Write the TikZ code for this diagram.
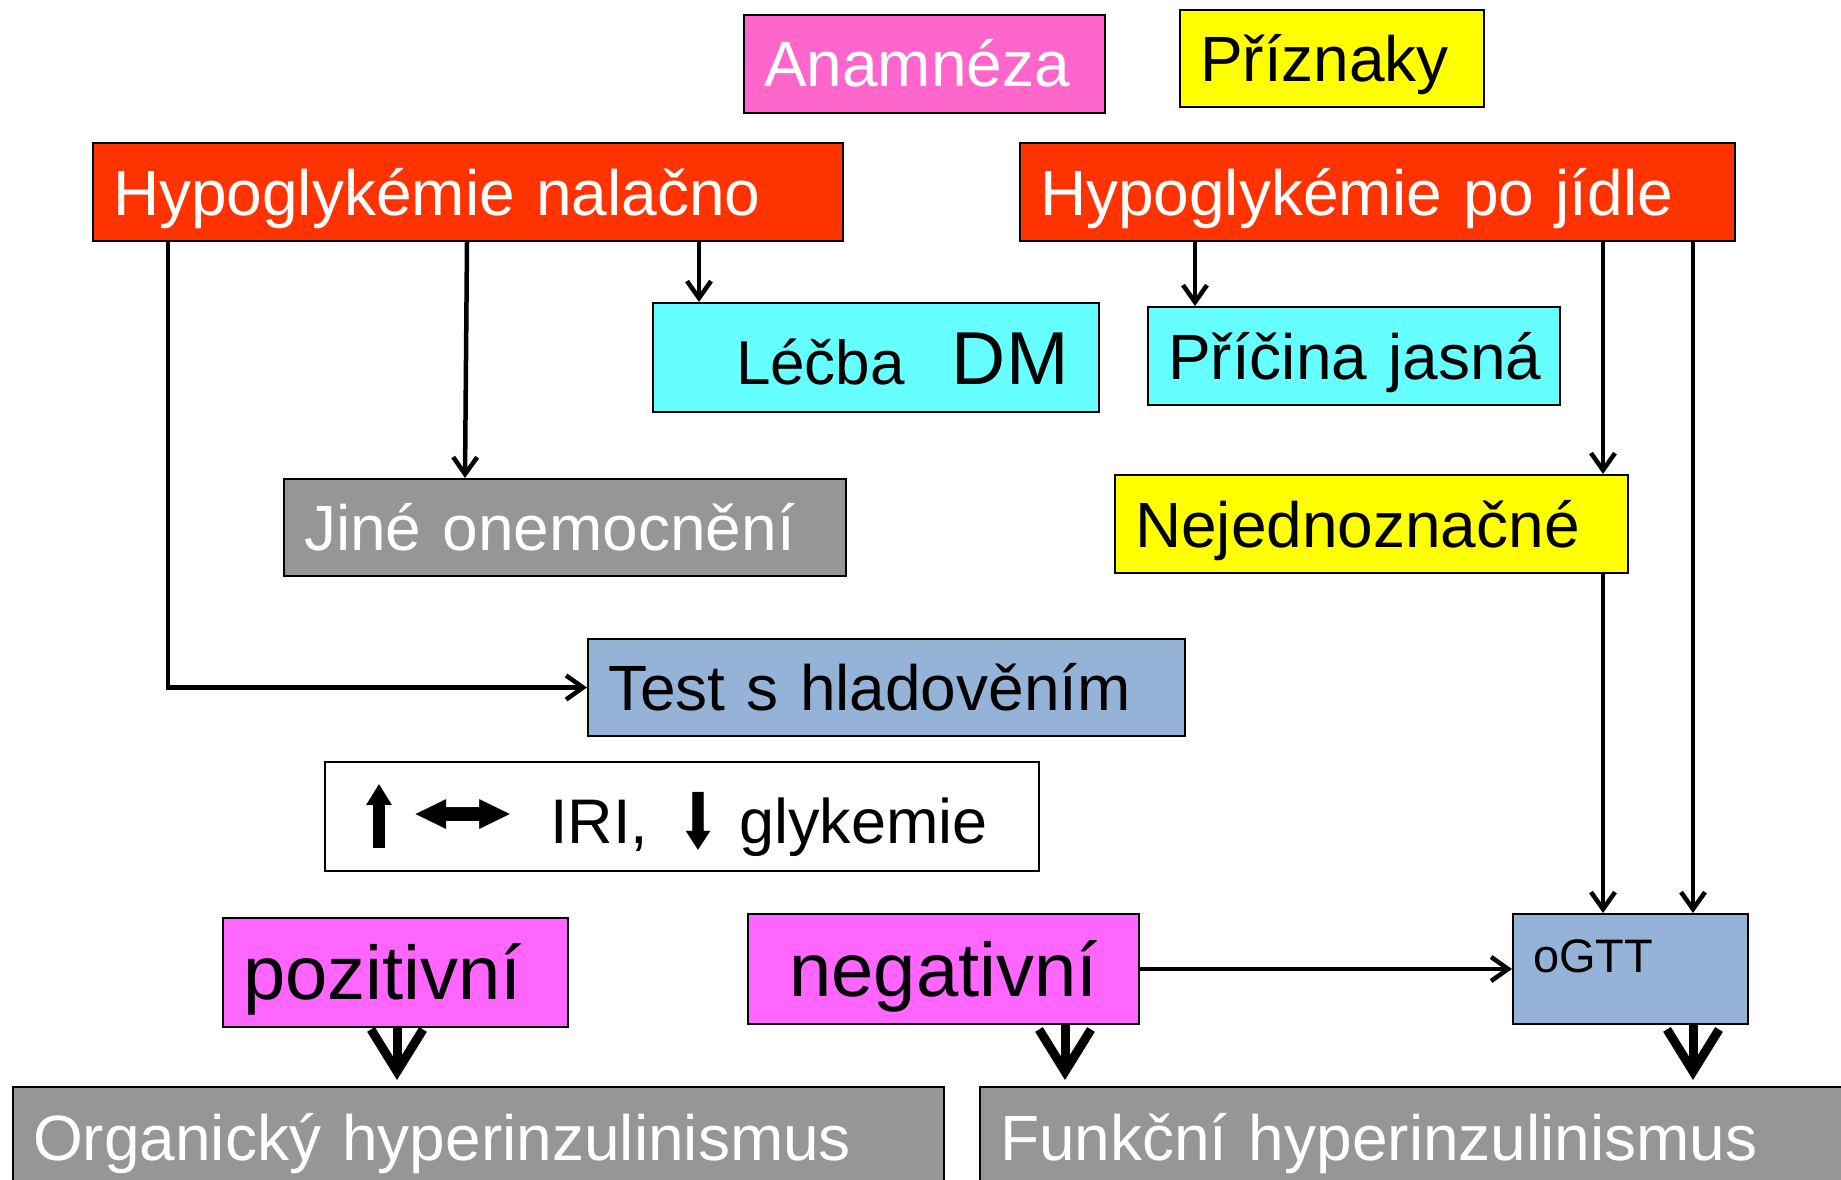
\documentclass[tikz,border=0pt]{standalone}
\usepackage{fontspec}
\usepackage{graphicx}
\setmainfont{Liberation Sans}
\newfontfamily\symfont{DejaVu Sans}
\usetikzlibrary{arrows.meta,calc}
\definecolor{cRed}{HTML}{FF3300}
\definecolor{cRose}{HTML}{FF66CC}
\definecolor{cMag}{HTML}{FF66FF}
\definecolor{cYel}{HTML}{FFFF00}
\definecolor{cCyan}{HTML}{66FFFF}
\definecolor{cGray}{HTML}{969696}
\definecolor{cBlue}{HTML}{95B3D7}
\begin{document}
\begin{tikzpicture}[x=1pt,y=-1pt,
  box/.style={draw=black,line width=2pt,anchor=north west,inner ysep=0pt,inner xsep=20pt,align=left},
  f64/.style={font=\fontsize{64}{72}\selectfont,text height=46pt,text depth=0pt},
  f76/.style={font=\fontsize{76}{84}\selectfont,text height=54pt,text depth=0pt},
  arr/.style={line width=4.5pt,-{Straight Barb[length=17pt,width=24pt]}},
  big/.style={line width=9pt,-{Straight Barb[length=42pt,width=52pt]}},
]
\useasboundingbox (0,0) rectangle (1841,1180);
\clip (0,0) rectangle (1841,1180);

\node[box,f64,fill=cRose,text=white,text width=321pt,minimum height=98pt] (anam) at (743,14) {\mbox{Anamnéza}};
\node[box,f64,fill=cYel,text width=264pt,minimum height=97pt] (prizn) at (1179,9) {\mbox{Příznaky}};
\node[box,f64,fill=cRed,text=white,text width=710pt,minimum height=98pt] (nalacno) at (92,142) {\mbox{Hypoglykémie nalačno}};
\node[box,f64,fill=cRed,text=white,text width=675pt,minimum height=98pt] (pojidle) at (1019,142) {\mbox{Hypoglykémie po jídle}};
\node[box,fill=cCyan,font=\fontsize{62}{70}\selectfont,text height=54pt,text depth=0pt,text width=406pt,minimum height=109pt] (lecba) at (652,302) {\mbox{\hspace*{63pt}Léčba\hspace{47pt}{\fontsize{75}{80}\selectfont DM}}};
\node[box,f64,fill=cCyan,text width=372pt,minimum height=98pt] (pricina) at (1147,306) {\mbox{Příčina jasná}};
\node[box,f64,fill=cGray,text=white,text width=522pt,minimum height=97pt] (jine) at (283,478) {\mbox{Jiné onemocnění}};
\node[box,f64,fill=cYel,text width=473pt,minimum height=98pt] (nejedn) at (1114,474) {\mbox{Nejednoznačné}};
\node[box,f64,fill=cBlue,text width=557pt,minimum height=97pt] (test) at (587,638) {\mbox{Test s hladověním}};
\node[box,fill=white,font=\fontsize{63}{70}\selectfont,text height=54pt,text depth=0pt,text width=674pt,minimum height=109pt] (iri) at (324,761)
  {\mbox{\hspace*{12pt}\makebox[50pt][l]{\raisebox{-5pt}{\resizebox*{44pt}{64pt}{\symfont ⬆}}}%
  \makebox[143pt][l]{\hspace*{5pt}\raisebox{10pt}{\resizebox*{104pt}{34pt}{\symfont ⬌}}}%
  \makebox[127pt][l]{IRI,}%
  \makebox[62pt][l]{\raisebox{-5pt}{\resizebox*{42pt}{58pt}{\symfont ⬇}}}glykemie}};
\node[box,f76,fill=cMag,text width=305pt,minimum height=109pt] (poz) at (222,917) {\mbox{pozitivní}};
\node[box,f76,fill=cMag,align=center,text width=351pt,minimum height=110pt] (neg) at (747,913) {\mbox{negativní}};
\node[box,fill=cBlue,font=\fontsize{47}{52}\selectfont,text height=34pt,text depth=28pt,text width=195pt,minimum height=110pt] (ogtt) at (1512,913) {\mbox{oGTT}};
\node[box,f64,fill=cGray,text=white,text width=891pt,minimum height=100pt] (org) at (12,1086) {\mbox{Organický hyperinzulinismus}};
\node[box,f64,fill=cGray,text=white,text width=840pt,minimum height=100pt] (funk) at (979,1086) {\mbox{Funkční hyperinzulinismus}};

\draw[arr] ($(nalacno.south west)+(76,0)$) |- (test.west);
\draw[arr] ($(nalacno.south west)+(375,0)$) -- ($(jine.north west)+(182,0)$);
\draw[arr] ($(nalacno.south west)+(607,0)$) -- ($(lecba.north west)+(47,0)$);
\draw[arr] ($(pojidle.south west)+(176,0)$) -- ($(pricina.north west)+(48,0)$);
\draw[arr] ($(pojidle.south west)+(584,0)$) -- ($(nejedn.north west)+(489,0)$);
\draw[arr] ($(pojidle.south west)+(674,0)$) -- ($(ogtt.north west)+(181,0)$);
\draw[arr] ($(nejedn.south west)+(489,0)$) -- ($(ogtt.north west)+(91,0)$);
\draw[arr] (neg.east) -- (ogtt.west);
\draw[big] ($(poz.south west)+(175,0)$) -- ($(org.north west)+(385,-6)$);
\draw[big] ($(neg.south west)+(318,0)$) -- ($(funk.north west)+(86,-6)$);
\draw[big] ($(ogtt.south west)+(181,0)$) -- ($(funk.north west)+(714,-6)$);
\end{tikzpicture}
\end{document}
